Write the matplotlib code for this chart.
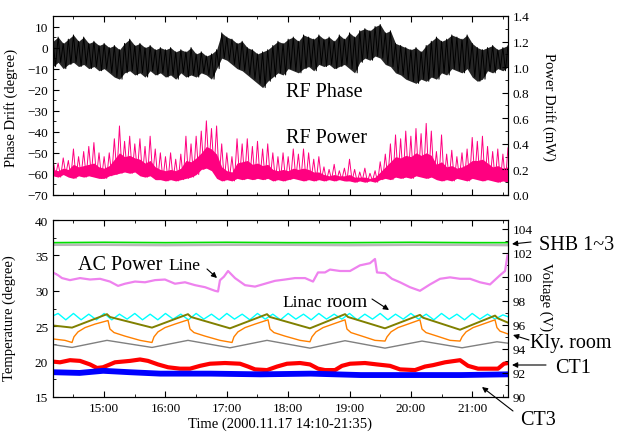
import numpy as np
import matplotlib
matplotlib.use("Agg")
import matplotlib.pyplot as plt
from matplotlib.ticker import MultipleLocator

plt.rcParams['font.family'] = ['Liberation Serif', 'DejaVu Serif']

# time axis: minutes after 14:00 (14:10 .. 21:35)
t_rf = np.arange(10, 456, 5)

# RF phase (degree), upper / lower envelope every 5 min
phase_hi = [3, 5, 2, 4, 6, 3, 5, 2, 3, 1,
            2, 0, 1, -1, 2, 4, 1, 2, 0, 1,
            -1, 0, -1, 0, -2, -1, -2, 0, -3, -2,
            -4, -3, -1, 7, 5, 4, 2, 3, 0, -1,
            -3, -2, -1, 1, 3, 2, 4, 5, 3, 6,
            5, 4, 6, 4, 5, 3, 6, 4, 7, 5,
            8, 9, 8, 10, 11, 7, 8, 2, 1, 0,
            -1, 0, -2, 1, 3, 5, 3, 4, 6, 5,
            4, 6, 2, 0, -1, 0, 1, -1, 0, 1]
phase_lo = [-9, -7, -10, -8, -7, -9, -8, -10, -9, -11,
            -10, -12, -14, -15, -12, -11, -13, -12, -14, -11,
            -13, -12, -14, -13, -15, -12, -14, -13, -14, -12,
            -13, -15, -10, -5, -6, -8, -10, -11, -13, -15,
            -17, -19, -16, -14, -12, -13, -10, -11, -12, -10,
            -9, -11, -8, -9, -8, -10, -9, -8, -10, -12,
            -7, -5, -6, -4, -5, -8, -9, -12, -13, -15,
            -16, -17, -15, -16, -14, -15, -12, -13, -10, -11,
            -12, -10, -14, -16, -15, -11, -12, -10, -11, -9]

# RF power (mW): spike tops, top of the dense part, and floor, every 5 min
power_hi = [0.28, 0.25, 0.29, 0.27, 0.36, 0.30, 0.34, 0.38, 0.41, 0.33,
            0.30, 0.33, 0.44, 0.54, 0.42, 0.46, 0.40, 0.44, 0.38, 0.46,
            0.36, 0.33, 0.30, 0.33, 0.28, 0.32, 0.46, 0.40, 0.46, 0.50,
            0.58, 0.52, 0.54, 0.40, 0.33, 0.30, 0.44, 0.40, 0.44, 0.38,
            0.42, 0.36, 0.40, 0.33, 0.30, 0.33, 0.30, 0.36, 0.32, 0.36,
            0.33, 0.28, 0.30, 0.22, 0.20, 0.24, 0.19, 0.21, 0.28, 0.20,
            0.18, 0.21, 0.17, 0.19, 0.26, 0.32, 0.40, 0.47, 0.44, 0.50,
            0.46, 0.52, 0.48, 0.56, 0.50, 0.34, 0.47, 0.32, 0.35, 0.30,
            0.33, 0.36, 0.45, 0.42, 0.46, 0.38, 0.34, 0.36, 0.32, 0.37]
power_mid = [0.20, 0.19, 0.21, 0.20, 0.24, 0.22, 0.23, 0.24, 0.25, 0.22,
             0.21, 0.23, 0.28, 0.33, 0.30, 0.31, 0.29, 0.28, 0.25, 0.27,
             0.22, 0.20, 0.19, 0.20, 0.19, 0.21, 0.27, 0.26, 0.29, 0.33,
             0.38, 0.36, 0.32, 0.22, 0.19, 0.18, 0.25, 0.26, 0.27, 0.24,
             0.25, 0.23, 0.24, 0.20, 0.19, 0.20, 0.19, 0.21, 0.20, 0.21,
             0.20, 0.18, 0.18, 0.16, 0.15, 0.16, 0.15, 0.15, 0.16, 0.14,
             0.14, 0.14, 0.13, 0.14, 0.18, 0.22, 0.26, 0.30, 0.29, 0.31,
             0.30, 0.33, 0.31, 0.33, 0.31, 0.24, 0.26, 0.22, 0.23, 0.21,
             0.22, 0.24, 0.27, 0.27, 0.28, 0.25, 0.22, 0.23, 0.21, 0.22]
power_lo = [0.15, 0.14, 0.16, 0.14, 0.13, 0.15, 0.14, 0.15, 0.14, 0.13,
            0.13, 0.15, 0.16, 0.17, 0.18, 0.17, 0.18, 0.15, 0.14, 0.15,
            0.12, 0.12, 0.11, 0.12, 0.11, 0.12, 0.13, 0.14, 0.16, 0.20,
            0.21, 0.19, 0.13, 0.11, 0.12, 0.11, 0.13, 0.12, 0.13, 0.12,
            0.13, 0.12, 0.13, 0.11, 0.12, 0.11, 0.12, 0.13, 0.12, 0.11,
            0.12, 0.11, 0.12, 0.11, 0.12, 0.11, 0.12, 0.11, 0.11, 0.10,
            0.11, 0.10, 0.11, 0.10, 0.12, 0.13, 0.12, 0.14, 0.13, 0.14,
            0.13, 0.15, 0.14, 0.13, 0.14, 0.12, 0.11, 0.12, 0.11, 0.13,
            0.12, 0.11, 0.13, 0.12, 0.11, 0.12, 0.11, 0.10, 0.11, 0.10]

# SHB 1~3 (degree)
shb_t = [10, 60, 120, 180, 240, 300, 360, 420, 455]
shb_green = [36.8, 36.85, 36.8, 36.85, 36.8, 36.8, 36.85, 36.8, 36.8]
shb_gray = [36.5, 36.5, 36.45, 36.5, 36.5, 36.45, 36.5, 36.5, 36.45]

# AC power line (V)
ac_t = [10, 14.9, 18.8, 26.6, 36.4, 46.2, 56, 65.7, 73.6, 80.4,
        90.2, 100, 109.8, 119.5, 129.3, 139.1, 148.9, 158.7, 168.4, 171.4,
        173.3, 177.2, 181.2, 188, 197.8, 207.6, 217.3, 227.1, 236.9, 246.7,
        256.5, 264.3, 269.2, 276, 280.9, 290.7, 300.5, 310.2, 320, 324.9,
        326.9, 334.7, 341.5, 349.4, 359.1, 368.9, 378.7, 388.5, 398.3, 408.1,
        417.9, 427.6, 437.4, 447.2, 452.1, 454.5]
ac_v = [100.38, 100.15, 99.91, 99.74, 99.91, 99.79, 99.85, 99.62, 99.26, 99.44,
        99.62, 99.56, 99.74, 99.79, 99.44, 99.56, 99.32, 99.15, 98.85, 98.79,
        99.73, 100.03, 100.5, 99.91, 99.32, 99.2, 99.44, 99.68, 99.79, 99.91,
        99.91, 99.62, 100.38, 100.38, 100.62, 100.5, 100.5, 100.97, 101.15, 101.5,
        100.38, 100.32, 99.85, 99.56, 99.15, 98.85, 99.38, 99.85, 99.97, 99.85,
        99.85, 99.56, 99.38, 100.15, 100.5, 101.8]

# Linac room (degree), every 7.5 min
linac_t = np.arange(7.5, 458, 7.5)
linac_T = [26.3, 26.8, 25.9, 26.8, 25.9, 26.7, 25.9, 26.8, 25.9, 26.7,
           26.0, 26.8, 25.9, 26.7, 25.9, 26.8, 26.0, 26.7, 25.9, 26.8,
           26.0, 26.7, 25.9, 26.8, 26.0, 26.7, 25.9, 26.8, 26.0, 26.7,
           25.9, 26.8, 26.0, 26.7, 25.9, 26.8, 26.0, 26.7, 26.0, 26.8,
           25.9, 26.7, 26.0, 26.8, 25.9, 26.7, 26.0, 26.8, 26.0, 26.7,
           25.9, 26.8, 26.0, 26.7, 25.9, 26.8, 26.0, 26.7, 26.0, 26.6,
           26.2]

# olive sensor (degree)
olive_t = [10, 28.6, 62.8, 65.7, 106.8, 142, 145, 183.1, 219.3, 222.2,
           261.3, 295.6, 298.5, 334.7, 368.9, 371.9, 408.1, 442.3, 445.2, 455]
olive_T = [25.1, 24.8, 26.7, 26.3, 24.8, 26.7, 26.3, 24.7, 26.7, 26.3,
           24.7, 26.7, 26.3, 24.7, 26.6, 26.2, 24.5, 26.5, 26.1, 25.5]

# Kly. room (degree)
kly_t = [10, 21.7, 28.6, 30.5, 34.5, 41.3, 51.1, 63.8, 65.7, 69.7,
         80.4, 95.1, 106.8, 108.8, 112.7, 119.5, 129.3, 142, 144, 147.9,
         158.7, 173.3, 185.1, 187, 190.9, 197.8, 207.6, 220.3, 222.2, 226.1,
         236.9, 251.6, 261.3, 263.3, 267.2, 274.1, 283.8, 295.6, 297.5, 301.4,
         312.2, 324.9, 334.7, 336.7, 340.6, 347.4, 357.2, 368.9, 370.9, 374.8,
         385.6, 398.3, 408.1, 410.1, 414, 420.8, 430.6, 442.3, 444.2, 447.2, 455]
kly_T = [23.2, 23.0, 22.7, 23.5, 24.2, 24.8, 25.3, 25.8, 24.6, 24.1,
         23.6, 23.0, 22.7, 23.5, 24.2, 24.8, 25.3, 25.9, 24.6, 24.1,
         23.6, 23.0, 22.7, 23.5, 24.2, 24.8, 25.3, 25.9, 24.6, 24.1,
         23.6, 23.0, 22.8, 23.5, 24.2, 24.8, 25.3, 25.9, 24.6, 24.1,
         23.6, 23.0, 22.9, 23.5, 24.2, 24.8, 25.3, 25.9, 24.6, 24.1,
         23.6, 23.0, 22.9, 23.5, 24.2, 24.8, 25.3, 25.9, 24.8, 24.3, 23.9]

# gray sensor (degree)
gray_t = [10, 28.6, 62.8, 106.8, 142, 183.1, 219.3, 261.3, 295.6, 334.7,
          370.9, 410.1, 444.2, 455]
gray_T = [22.4, 22.0, 23.0, 22.0, 23.0, 21.95, 23.0, 21.9, 22.95, 21.9,
          22.9, 21.95, 22.8, 22.6]

# CT1 (degree)
ct1_t = [10, 16.8, 26.6, 36.4, 46.2, 53, 58.9, 65.7, 70.6, 85.3,
         95.1, 102.9, 112.7, 122.5, 134.2, 144, 153.8, 163.5, 178.2, 192.9,
         200.7, 207.6, 219.3, 229.1, 238.9, 251.6, 261.3, 269.2, 276, 285.8,
         292.6, 300.5, 315.1, 326.9, 339.6, 349.4, 364, 373.8, 381.7, 393.4,
         408.1, 415.9, 425.7, 445.2, 451.1, 455]
ct1_T = [20.0, 19.9, 20.2, 20.1, 19.6, 19.1, 19.2, 19.6, 19.9, 20.1,
         20.3, 20.1, 19.6, 19.2, 19.0, 19.0, 19.4, 19.7, 19.8, 19.7,
         19.3, 18.9, 18.8, 19.3, 19.7, 19.8, 19.6, 19.0, 18.8, 18.8,
         19.4, 19.7, 19.8, 19.6, 19.4, 18.9, 18.8, 19.3, 19.5, 19.9,
         20.2, 19.4, 19.0, 19.0, 19.7, 19.8]

# CT3 (degree)
ct3_t = [10, 36, 59, 85, 115, 164, 213, 262, 311, 360, 409, 455]
ct3_T = [18.5, 18.4, 18.7, 18.5, 18.3, 18.3, 18.2, 18.3, 18.1, 18.1, 18.1, 18.2]

hour_ticks = [60, 120, 180, 240, 300, 360, 420]
hour_labels = ["15:00", "16:00", "17:00", "18:00", "19:00", "20:00", "21:00"]


def zigzag(t, hi, lo):
    x = np.column_stack([t, np.asarray(t) + 2.5]).ravel()
    y = np.column_stack([hi, lo]).ravel()
    return x, y


fig = plt.figure(figsize=(6.19, 4.35), dpi=100)
W, H = 619.0, 435.0
ax1 = fig.add_axes([53 / W, 1 - 196 / H, 455 / W, 179 / H])
ax1r = ax1.twinx()
ax2 = fig.add_axes([53 / W, 1 - 398 / H, 455 / W, 177 / H])
ax2r = ax2.twinx()

# RF phase: dense band plus spikes
ax1.fill_between(t_rf, phase_lo, phase_hi, color='black', lw=0, alpha=0.85)
xp, yp = zigzag(t_rf, phase_hi, phase_lo)
ax1.plot(xp, yp, color='black', lw=0.7)
# RF power: dense floor band plus spikes
ax1r.fill_between(t_rf, power_lo, power_mid, color='#ff0080', lw=0)
xw, yw = zigzag(t_rf, power_hi, power_lo)
ax1r.plot(xw, yw, color='#ff0080', lw=0.7)

ax2.plot(shb_t, shb_gray, color='#b8b8b8', lw=1.8)
ax2.plot(shb_t, shb_green, color='#00e000', lw=1.2)
ax2.plot(linac_t, linac_T, color='#00ffff', lw=1.0)
ax2.plot(olive_t, olive_T, color='#808000', lw=1.4)
ax2.plot(kly_t, kly_T, color='#ff8000', lw=1.0)
ax2.plot(gray_t, gray_T, color='#808080', lw=1.0)
ax2.plot(ct1_t, ct1_T, color='#ff0000', lw=3.0)
ax2.plot(ct3_t, ct3_T, color='#0000ff', lw=4.2)
ax2r.plot(ac_t, ac_v, color='#ee82ee', lw=1.6)

for ax in (ax1, ax2):
    ax.set_xlim(10, 455)
    ax.set_xticks(hour_ticks)
    ax.xaxis.set_minor_locator(MultipleLocator(30))
    ax.tick_params(axis='both', which='both', direction='in', top=True,
                   labelsize=9.5)
    ax.tick_params(which='major', length=4)
    ax.tick_params(which='minor', length=2)
for ax in (ax1r, ax2r):
    ax.tick_params(axis='y', which='both', direction='in', labelsize=9.5)
    ax.tick_params(which='major', length=4)
    ax.tick_params(which='minor', length=2)

ax1.set_xticklabels([])
ax2.set_xticklabels(hour_labels)

ax1.set_ylim(-70, 15)
ax1.yaxis.set_major_locator(MultipleLocator(10))
ax1.yaxis.set_minor_locator(MultipleLocator(5))
ax1r.set_ylim(0, 1.4)
ax1r.yaxis.set_major_locator(MultipleLocator(0.2))
ax1r.yaxis.set_minor_locator(MultipleLocator(0.1))
ax1r.yaxis.set_major_formatter(plt.FormatStrFormatter('%.1f'))

ax2.set_ylim(15, 40)
ax2.yaxis.set_major_locator(MultipleLocator(5))
ax2.yaxis.set_minor_locator(MultipleLocator(2.5))
ax2r.set_ylim(90, 104.75)
ax2r.yaxis.set_major_locator(MultipleLocator(2))
ax2r.yaxis.set_minor_locator(MultipleLocator(1))

ax1.set_ylabel("Phase Drift (degree)", fontsize=10.5)
ax1.yaxis.set_label_coords(-0.077, 0.49)
ax1r.set_ylabel("Power Drift (mW)", fontsize=10.5, rotation=270, va='bottom')
ax1r.yaxis.set_label_coords(1.075, 0.5)
ax2.set_ylabel("Temperature (degree)", fontsize=10.5)
ax2.yaxis.set_label_coords(-0.081, 0.45)
ax2r.set_ylabel("Voltage (V)", fontsize=10.5, rotation=270, va='bottom')
ax2r.yaxis.set_label_coords(1.068, 0.57)
ax2.set_xlabel("Time (2000.11.17 14:10-21:35)", fontsize=10.5, labelpad=2)


def fx(x, y):
    return x / W, 1 - y / H


fig.text(*fx(286, 97), "RF Phase", fontsize=14.5, va='baseline')
fig.text(*fx(286, 143), "RF Power", fontsize=14.5, va='baseline')
fig.text(*fx(78, 270), "AC Power", fontsize=14.5, va='baseline')
fig.text(*fx(168, 270), "Line", fontsize=12.5, va='baseline')
fig.text(*fx(282, 307), "Linac", fontsize=12.5, va='baseline')
fig.text(*fx(327, 307), "room", fontsize=14, va='baseline')
fig.text(*fx(539, 250), "SHB 1~3", fontsize=14.5, va='baseline')
fig.text(*fx(530, 348), "Kly. room", fontsize=14.5, va='baseline')
fig.text(*fx(555, 373), "CT1", fontsize=14.5, va='baseline')
fig.text(*fx(520, 425), "CT3", fontsize=14.5, va='baseline')

arrow = dict(arrowstyle='-|>', color='black', lw=0.8, mutation_scale=8,
             shrinkA=0, shrinkB=0)
arrows = [((207, 270), (217, 279)),
          ((372, 300), (389, 311)),
          ((531, 243), (512, 245)),
          ((529, 341), (513, 336)),
          ((546, 366), (512, 366)),
          ((513, 412), (482, 388))]
for (x0, y0), (x1, y1) in arrows:
    fig.add_artist(plt.Annotation("", xy=fx(x1, y1), xytext=fx(x0, y0),
                                  xycoords='figure fraction',
                                  textcoords='figure fraction',
                                  arrowprops=arrow))

fig.savefig("out.png", dpi=100)
